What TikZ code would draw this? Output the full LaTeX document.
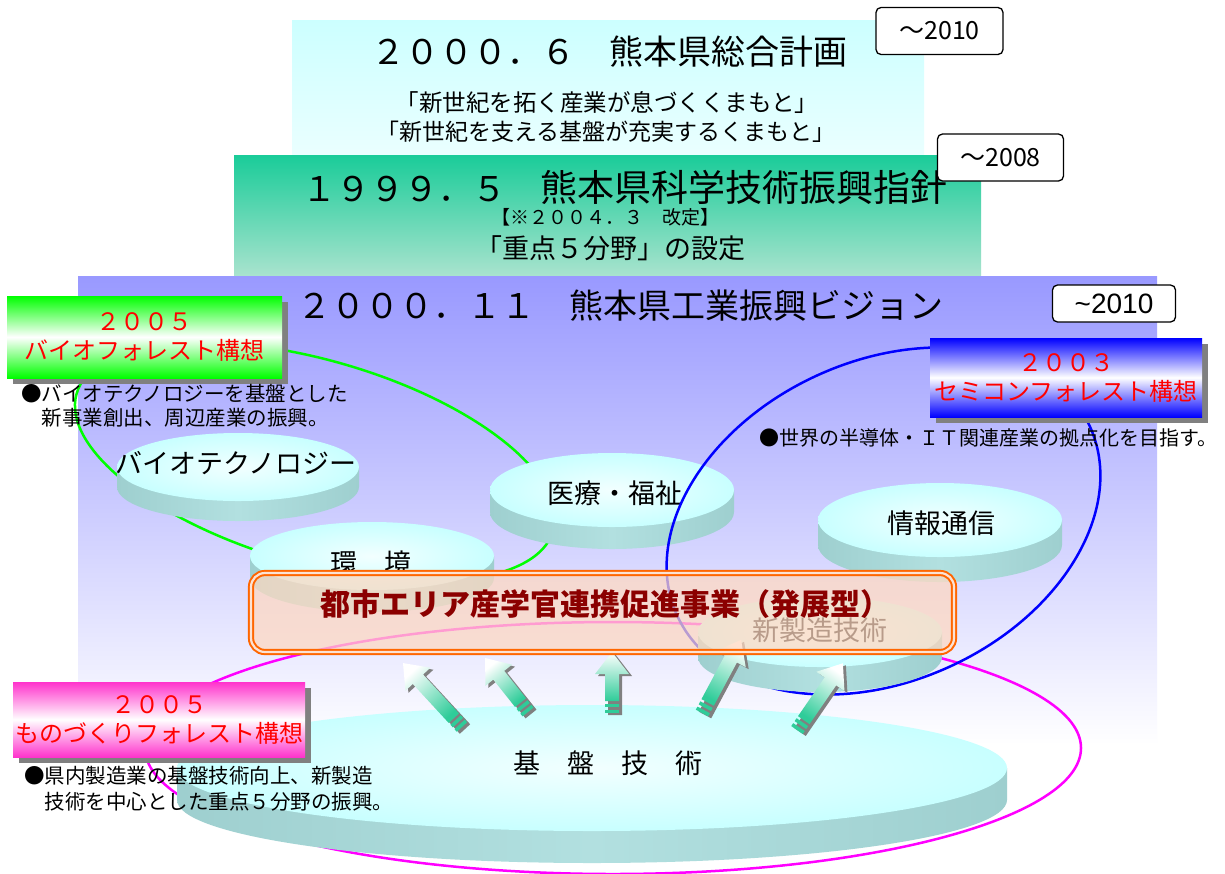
\documentclass[tikz,border=0pt]{standalone}
\usepackage{fontspec}
\setmainfont{Noto Sans CJK JP}
\newfontfamily\arialfont{Liberation Sans}
\usetikzlibrary{shadows}
\definecolor{cyanA}{HTML}{CCFFFF}
\definecolor{cyanB}{HTML}{EBFFFF}
\definecolor{greenA}{HTML}{1ACC99}
\definecolor{greenB}{HTML}{A9E3CE}
\definecolor{purpA}{HTML}{9999FF}
\definecolor{faceC}{HTML}{C8FFFF}
\definecolor{faceW}{HTML}{F2FFFF}
\definecolor{sideC}{HTML}{B2E0E0}
\definecolor{sideD}{HTML}{9ECFCF}
\definecolor{orangeL}{HTML}{FF6600}
\definecolor{peach}{HTML}{FFD8C0}
\definecolor{peachM}{HTML}{FBE2D4}
\definecolor{darkred}{HTML}{8B0000}
\definecolor{arrowG}{HTML}{2FCC99}
\definecolor{pinkF}{HTML}{FF33CC}
\definecolor{shadowC}{HTML}{808080}
\definecolor{ringG}{HTML}{00FF00}
\definecolor{ringB}{HTML}{0000FF}
\definecolor{ringP}{HTML}{FF00FF}
\definecolor{boxG}{HTML}{00FF00}
\definecolor{boxB}{HTML}{0000FF}
\newcommand{\mydisc}[5]{%
  \path[left color=sideD, right color=sideD, middle color=sideC]
    (#1-#3,#2) -- (#1-#3,#2+#5) arc[start angle=180, end angle=0, x radius=#3, y radius=#4] -- (#1+#3,#2) -- cycle;
  \path[inner color=faceW, outer color=faceC] (#1,#2) ellipse [x radius=#3, y radius=#4];
}
\newcommand{\fatarrow}[4]{%
  \begin{scope}[shift={(#1+3,#2+2)}, rotate=#3]
    \fill[shadowC] (0,-7) -- (#4-22,-7) -- (#4-22,-17) -- (#4,0) -- (#4-22,17) -- (#4-22,7) -- (0,7) -- cycle;
  \end{scope}
  \begin{scope}[shift={(#1,#2)}, rotate=#3]
    \path[top color=white, bottom color=arrowG, shading angle=#3-90] (12,-7) -- (#4-22,-7) -- (#4-22,-17) -- (#4,0) -- (#4-22,17) -- (#4-22,7) -- (12,7) -- cycle;
    \fill[arrowG] (0,-7) rectangle (3.5,7);
    \fill[arrowG] (6,-7) rectangle (9.5,7);
  \end{scope}}
\tikzset{
  yearbox/.style={draw, fill=white, line width=1.3, rounded corners=5, inner sep=0, font=\fontsize{25}{28}\selectfont},
  forestbox/.style={inner sep=0, align=center, text=red, font=\fontsize{24}{29}\selectfont,
    drop shadow={shadow xshift=6pt, shadow yshift=-6pt, fill=shadowC, opacity=1}},
  bullettext/.style={anchor=west, align=left, inner sep=0, font=\fontsize{20.5}{24}\selectfont},
  disclabel/.style={inner sep=0, font=\fontsize{27}{30}\selectfont},
  ring/.style={line width=2.5}
}
\begin{document}
\begin{tikzpicture}[x=1pt, y=-1pt]
\useasboundingbox (0,0) rectangle (1225,873);
\fill[white] (0,0) rectangle (1225,873);
% background plates
\path[top color=cyanA, bottom color=cyanB] (292,20) rectangle (924,160);
\path[top color=greenA, bottom color=greenB] (234,155) rectangle (981,276);
\path[top color=purpA, bottom color=white] (78,276) rectangle (1157,745);
% titles
\node[inner sep=0] (t1) at (609,52) {\fontsize{34}{40}\selectfont ２０００．６　熊本県総合計画};
\node[inner sep=0] (s1) at (607,103) {\fontsize{23.5}{26}\selectfont 「新世紀を拓く産業が息づくくまもと」};
\node[inner sep=0] (s2) at (606,132) {\fontsize{23}{26}\selectfont 「新世紀を支える基盤が充実するくまもと」};
\node[inner sep=0] (t2) at (625,187) {\fontsize{34}{40}\selectfont １９９９．５　{\fontsize{37}{40}\selectfont 熊本県科学技術振興指針}};
\node[inner sep=0] (g1) at (605,217) {\fontsize{19}{22}\selectfont 【※２００４．３　改定】};
\node[inner sep=0] (g2) at (610,248) {\fontsize{27}{30}\selectfont 「重点５分野」の設定};
\node[inner sep=0] (t3) at (620,306) {\fontsize{34}{40}\selectfont ２０００．１１　熊本県工業振興ビジョン};
% period boxes
\node[yearbox, minimum width=127, minimum height=47] (y1) at (939.5,31) {～2010};
\node[yearbox, minimum width=126, minimum height=47] (y2) at (1000.5,157.5) {～2008};
\node[yearbox, minimum width=123, minimum height=37, font=\arialfont\fontsize{28}{30}\selectfont] (y3) at (1114,303.5) {\textasciitilde 2010};
% forest rings (behind)
\draw[ring, ringG, rotate around={-16:(315,462)}] (315,462) ellipse [x radius=248, y radius=102];
\draw[ring, ringP] (613,748) ellipse [x radius=468, y radius=126];
% discs
\mydisc{238}{467}{121}{34}{20}
\node[disclabel] (bio) at (236,463) {バイオテクノロジー};
\mydisc{612}{490}{122}{37}{22}
\node[disclabel] (iryo) at (615,493) {医療・福祉};
\draw[ring, ringB, rotate around={24.65:(883.5,521)}] (883.5,521) ellipse [x radius=227, y radius=160];
\mydisc{372}{556}{122}{34}{22}
\node[disclabel] (kankyo) at (371,563) {環　境};
\mydisc{940}{520}{122}{37}{25}
\node[disclabel] (joho) at (941,523) {情報通信};
\mydisc{820}{632}{122}{35}{25}
\node[disclabel] (shin) at (820,630) {新製造技術};
\mydisc{592}{768}{415}{63}{32}
\node[disclabel] (kiban) at (608,763) {基　盤　技　術};
% arrows
\fatarrow{462}{727}{132.7}{87}
\fatarrow{528}{712}{128.5}{69}
\fatarrow{612}{713}{90}{61}
\fatarrow{702}{713}{61.9}{83}
\fatarrow{797}{730}{55.5}{81}
% project box
\node[draw=orangeL, line width=2, double=peachM, double distance=2.2, rounded corners=14,
      fill=peach, fill opacity=0.72, minimum width=703, minimum height=79, inner sep=0] (toshi) at (602.5,612.5) {};
\node[inner sep=0, text=darkred, font=\bfseries\fontsize{30}{34}\selectfont] (toshiL) at (605,604) {都市エリア産学官連携促進事業（発展型）};
% forest concepts
\node[forestbox, top color=boxG, bottom color=boxG, middle color=white, minimum width=275, minimum height=82] (bioF) at (144.5,337) {２００５\\バイオフォレスト構想};
\node[bullettext] (bioT) at (21,406) {●バイオテクノロジーを基盤とした\\\hspace*{1em}新事業創出、周辺産業の振興。};
\node[forestbox, top color=boxB, bottom color=boxB, middle color=white, minimum width=272, minimum height=79] (semiF) at (1066,377.5) {２００３\\セミコンフォレスト構想};
\node[bullettext, font=\fontsize{20}{24}\selectfont] (semiT) at (759,438) {●世界の半導体・ＩＴ関連産業の拠点化を目指す。};
\node[forestbox, top color=pinkF, bottom color=pinkF, middle color=white, minimum width=292, minimum height=75] (monoF) at (159,719.5) {２００５\\ものづくりフォレスト構想};
\node[bullettext, font=\fontsize{20.5}{26}\selectfont] (monoT) at (24,789) {●県内製造業の基盤技術向上、新製造\\\hspace*{1em}技術を中心とした重点５分野の振興。};
\end{tikzpicture}
\end{document}
